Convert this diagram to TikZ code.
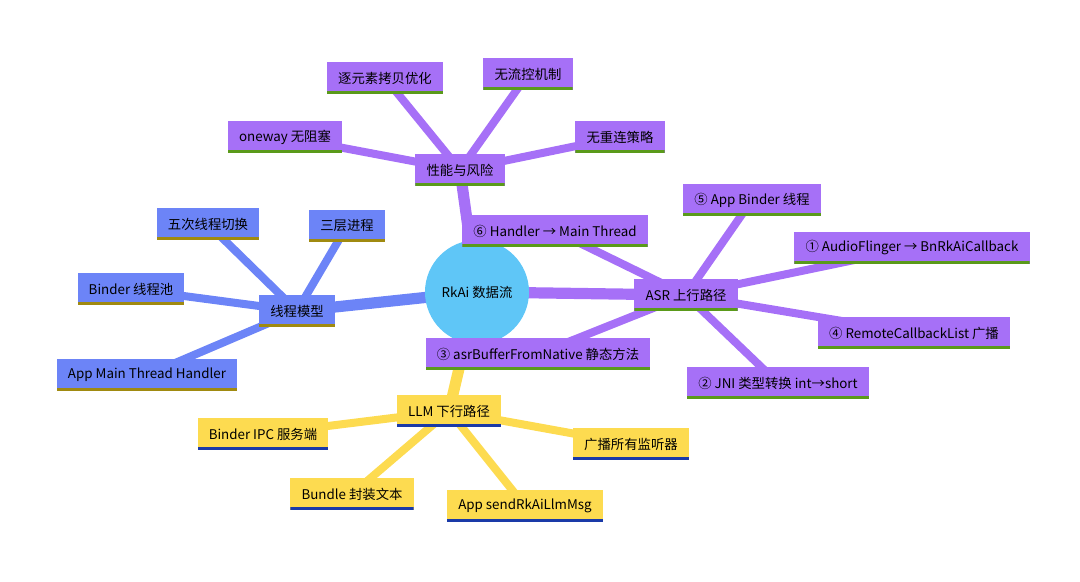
\documentclass[tikz,border=0pt]{standalone}
\usepackage{fontspec}
\setmainfont{Noto Sans CJK SC}
\usepackage{tikz}
\usetikzlibrary{backgrounds}

\definecolor{hub}{HTML}{5FC6F7}
\definecolor{asr}{HTML}{A670F7}
\definecolor{thr}{HTML}{6C84F7}
\definecolor{llm}{HTML}{FDDB50}
\definecolor{asrline}{HTML}{5A9A1A}
\definecolor{thrline}{HTML}{A08A10}
\definecolor{llmline}{HTML}{1A3AA8}

\tikzset{
 leaf/.style 2 args={rectangle, fill=#1, text=black, font=\fontsize{9.5}{11}\selectfont,
   minimum height=0.8cm, inner xsep=0.28cm,
   path picture={\fill[#2] (path picture bounding box.south west) rectangle
     ([yshift=0.075cm]path picture bounding box.south east);}},
 branch/.style={line width=#1, line cap=round}
}

\begin{document}
\begin{tikzpicture}[x=0.025cm,y=-0.025cm]
 \useasboundingbox (0,0) rectangle (1080,581);

 % centre
 \node[circle, fill=hub, minimum size=2.6cm, font=\fontsize{9.5}{11}\selectfont] (hub) at (477,292) {RkAi 数据流};

 % main branches
 \node[leaf={asr}{asrline}] (perf) at (460,170) {性能与风险};
 \node[leaf={asr}{asrline}] (asrp) at (686,295) {ASR 上行路径};
 \node[leaf={thr}{thrline}] (thread) at (297,311) {线程模型};
 \node[leaf={llm}{llmline}] (llmp) at (449,411) {LLM 下行路径};

 % performance
 \node[leaf={asr}{asrline}] (copy) at (385,78) {逐元素拷贝优化};
 \node[leaf={asr}{asrline}] (flow) at (528,74) {无流控机制};
 \node[leaf={asr}{asrline}] (oneway) at (285,137) {oneway 无阻塞};
 \node[leaf={asr}{asrline}] (reconn) at (620,137) {无重连策略};

 % asr path
 \node[leaf={asr}{asrline}] (s5) at (752,200) {⑤ App Binder 线程};
 \node[leaf={asr}{asrline}] (s6) at (555,231) {⑥ Handler → Main Thread};
 \node[leaf={asr}{asrline}] (s1) at (912,248) {① AudioFlinger → BnRkAiCallback};
 \node[leaf={asr}{asrline}] (s4) at (914,333) {④ RemoteCallbackList 广播};
 \node[leaf={asr}{asrline}] (s3) at (538,354) {③ asrBufferFromNative 静态方法};
 \node[leaf={asr}{asrline}] (s2) at (778,383) {② JNI 类型转换 int→short};

 % thread model
 \node[leaf={thr}{thrline}] (five) at (208,224) {五次线程切换};
 \node[leaf={thr}{thrline}] (three) at (347,226) {三层进程};
 \node[leaf={thr}{thrline}] (pool) at (131,289) {Binder 线程池};
 \node[leaf={thr}{thrline}] (mainh) at (147,375) {App Main Thread Handler};

 % llm path
 \node[leaf={llm}{llmline}] (ipc) at (263,434) {Binder IPC 服务端};
 \node[leaf={llm}{llmline}] (bcast) at (631,444) {广播所有监听器};
 \node[leaf={llm}{llmline}] (bundle) at (352,494) {Bundle 封装文本};
 \node[leaf={llm}{llmline}] (send) at (525,506) {App sendRkAiLlmMsg};

 % connectors under the boxes
 \begin{scope}[on background layer]
 \draw[branch=0.28cm, asr] (hub.center) -- (perf.center);
 \draw[branch=0.28cm, asr] (hub.center) -- (asrp.center);
 \draw[branch=0.28cm, thr] (hub.center) -- (thread.center);
 \draw[branch=0.28cm, llm] (llmp.center) -- (hub.center);
 \foreach \n in {copy,flow,oneway,reconn}
  \draw[branch=0.2cm, asr] (perf.center) -- (\n.center);
 \foreach \n in {s5,s6,s1,s4,s3,s2}
  \draw[branch=0.2cm, asr] (asrp.center) -- (\n.center);
 \foreach \n in {five,three,pool,mainh}
  \draw[branch=0.2cm, thr] (thread.center) -- (\n.center);
 \foreach \n in {ipc,bcast,bundle,send}
  \draw[branch=0.2cm, llm] (llmp.center) -- (\n.center);
 \end{scope}

\end{tikzpicture}
\end{document}
